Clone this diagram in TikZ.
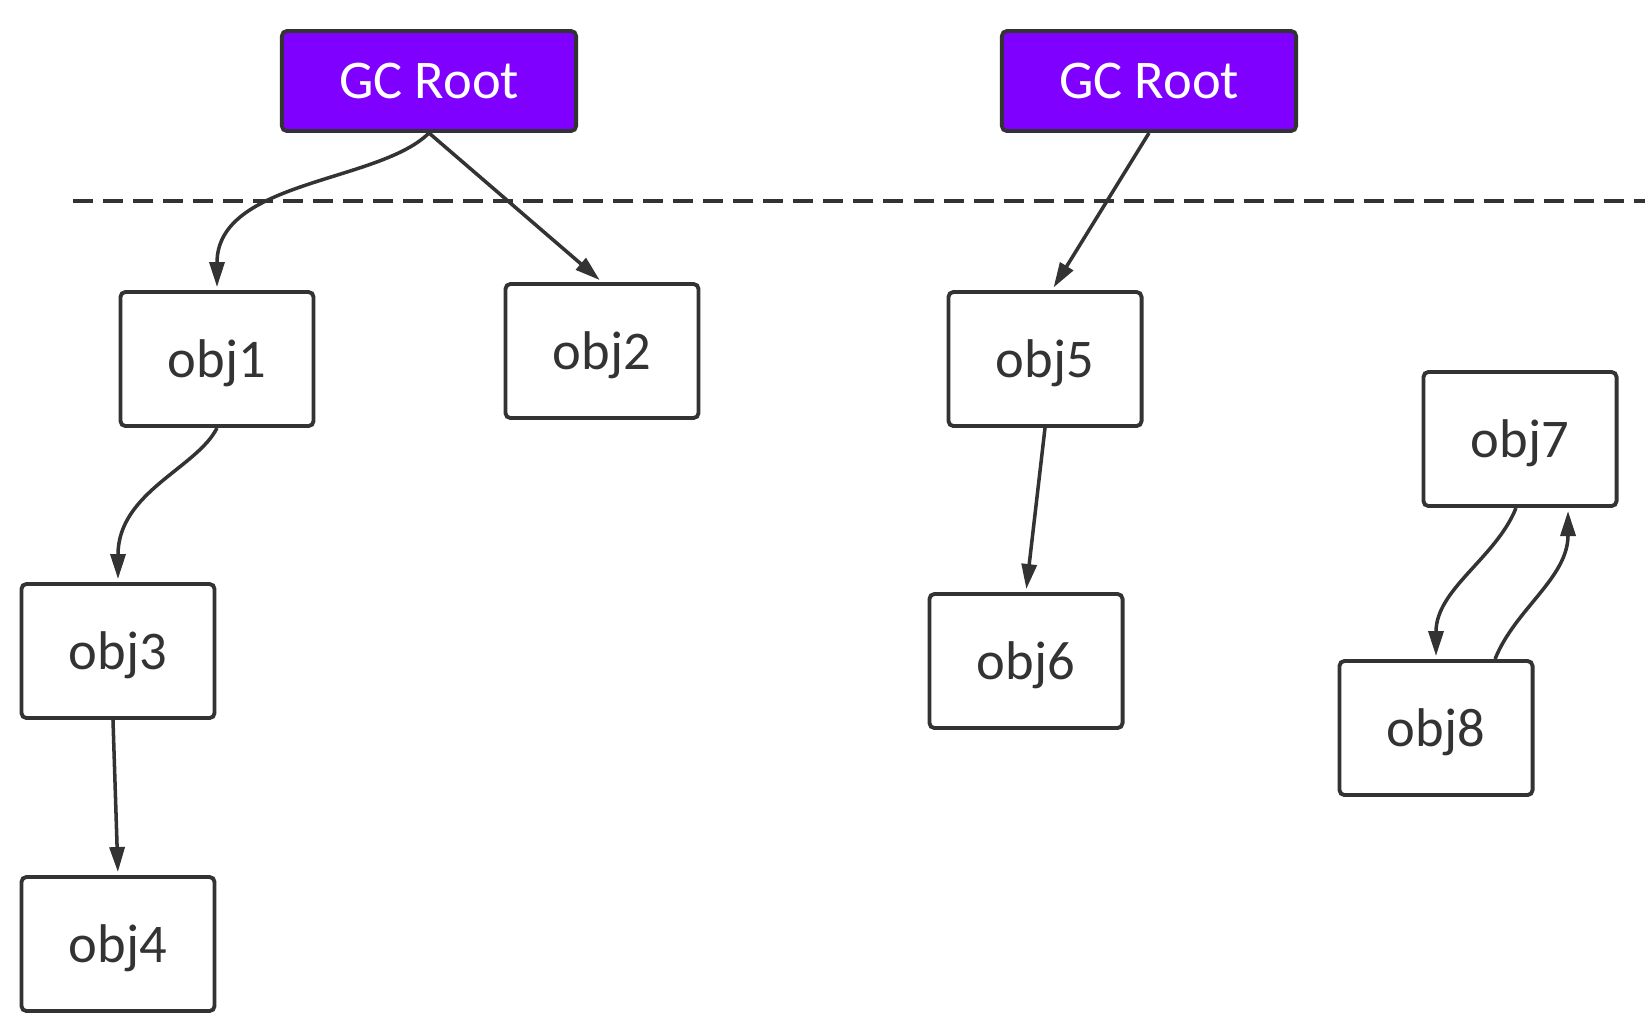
\documentclass[tikz,border=0pt]{standalone}
\usepackage{fontspec}
\setmainfont{Carlito}
\usetikzlibrary{arrows.meta}
\definecolor{rootpurple}{HTML}{7F00FF}
\definecolor{inkgray}{HTML}{333333}
\begin{document}
\begin{tikzpicture}[
x=0.01cm, y=-0.01cm,
every node/.style={draw=inkgray, line width=1.1pt, rounded corners=0.05cm, align=center, text depth=0pt, font=\fontsize{15.5}{18}\selectfont, text=inkgray},
objbox/.style={minimum width=1.93cm, minimum height=1.34cm, fill=white},
rootbox/.style={minimum width=2.94cm, minimum height=1.0cm, fill=rootpurple, text=white},
ref/.style={draw=inkgray, line width=1.0pt, shorten >=0.03cm, -{Triangle[length=0.25cm,width=0.15cm]}},
boundary/.style={draw=inkgray, line width=1.1pt, dash pattern=on 0.2cm off 0.1cm}
]
\useasboundingbox (0,0) rectangle (1645,1026);

% reachable / unreachable boundary
\coordinate (cutL) at (73,201);
\coordinate (cutR) at (1645,201);
\draw[boundary] (cutL) -- (cutR);

% roots
\node[rootbox] (rootA) at (429,81) {GC Root};
\node[rootbox] (rootB) at (1149,81) {GC Root};

% objects
\node[objbox] (obj1) at (217,359) {obj1};
\node[objbox] (obj2) at (602,351) {obj2};
\node[objbox] (obj3) at (118,651) {obj3};
\node[objbox] (obj4) at (118,944) {obj4};
\node[objbox] (obj5) at (1045,359) {obj5};
\node[objbox] (obj6) at (1026,661) {obj6};
\node[objbox] (obj7) at (1520,439) {obj7};
\node[objbox] (obj8) at (1436,728) {obj8};

% references
\draw[ref] (rootA.south) .. controls +(-50,50) and +(0,-110) .. (obj1.north);
\draw[ref] (rootA.south) -- (obj2.north);
\draw[ref] (rootB.south) -- ([xshift=0.07cm]obj5.north);
\draw[ref] (obj1.south) .. controls +(-20,40) and +(0,-90) .. (obj3.north);
\draw[ref] ([xshift=-0.05cm]obj3.south) -- (obj4.north);
\draw[ref] (obj5.south) -- (obj6.north);
% cycle
\draw[ref] ([xshift=-0.04cm]obj7.south) .. controls +(-20,50) and +(0,-70) .. (obj8.north);
\draw[ref] ([xshift=0.59cm]obj8.north) .. controls +(20,-50) and +(0,70) .. ([xshift=0.48cm]obj7.south);
\end{tikzpicture}
\end{document}
